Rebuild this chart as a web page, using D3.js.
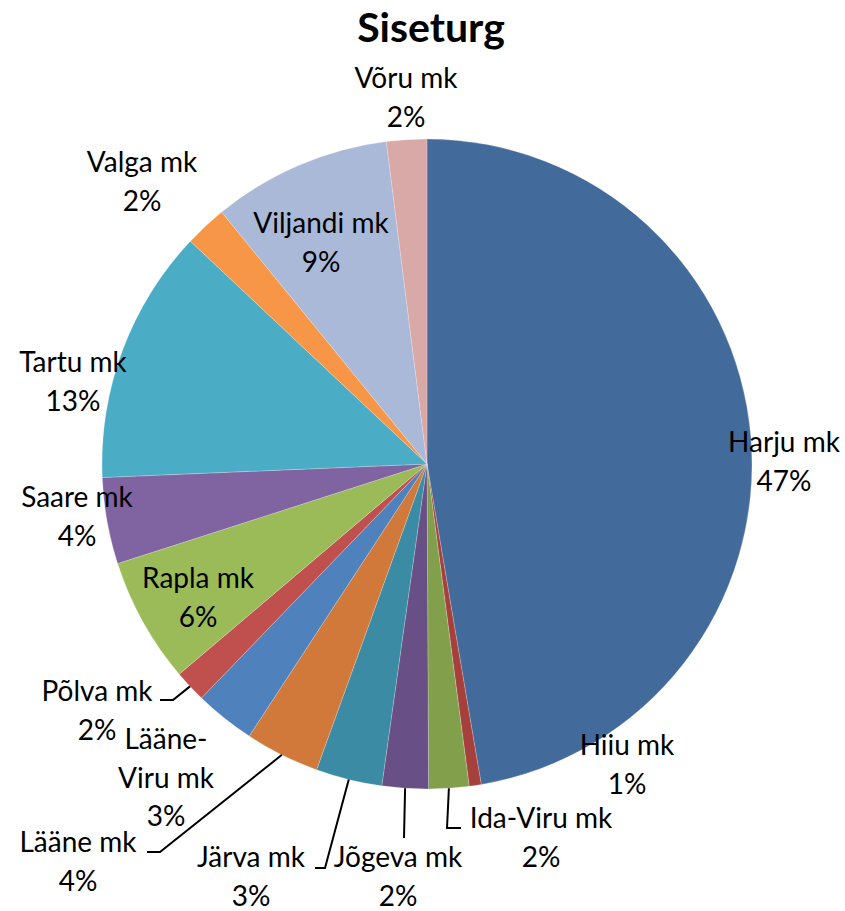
<!DOCTYPE html>
<html>
<head>
<meta charset="utf-8">
<script src="https://cdn.jsdelivr.net/npm/d3@7"></script>
<style>
  html, body { margin: 0; padding: 0; background: #fff; }
  svg { display: block; }
  text { font-family: Lato, "Open Sans", sans-serif; fill: #000; }
</style>
</head>
<body>
<svg id="chart" width="845" height="911"></svg>
<script>
// ---- data ----
const title = "Siseturg";
const categories = ["Harju mk", "Hiiu mk", "Ida-Viru mk", "Jõgeva mk", "Järva mk", "Lääne mk",
  "Lääne-Viru mk", "Põlva mk", "Rapla mk", "Saare mk", "Tartu mk", "Valga mk", "Viljandi mk", "Võru mk"];
const values = [47.4, 0.6, 2.0, 2.3, 3.3, 3.7, 3.0, 1.6, 6.25, 4.3, 12.7, 2.1, 8.9, 2.0];
const colors = ["#426A9B", "#A6403D", "#82A04C", "#684F86", "#3A8BA3", "#D0793A", "#4F81BD",
  "#C0504D", "#9BBB59", "#8064A2", "#4BACC6", "#F79646", "#AAB9D7", "#D9A9A8"];

// ---- layout (label anchor = centre x, first baseline y; leader elbow/end points) ----
const labelLayout = {
  "Harju mk":      { x: 784, y: 452, lines: ["Harju mk"] },
  "Hiiu mk":       { x: 627, y: 755, lines: ["Hiiu mk"] },
  "Ida-Viru mk":   { x: 541, y: 828, lines: ["Ida-Viru mk"], leader: [[447, 828], [461, 828]] },
  "Jõgeva mk":     { x: 398, y: 867, lines: ["Jõgeva mk"], leader: [[404, 838]] },
  "Järva mk":      { x: 251, y: 867, lines: ["Järva mk"], leader: [[325, 868], [315, 868]] },
  "Lääne mk":      { x: 78,  y: 852, lines: ["Lääne mk"], leader: [[160, 852], [147, 852]] },
  "Lääne-Viru mk": { x: 166, y: 749, lines: ["Lääne-", "Viru mk"] },
  "Põlva mk":      { x: 97,  y: 701, lines: ["Põlva mk"], leader: [[173, 700], [160, 700]] },
  "Rapla mk":      { x: 198, y: 588, lines: ["Rapla mk"] },
  "Saare mk":      { x: 77,  y: 507, lines: ["Saare mk"] },
  "Tartu mk":      { x: 73,  y: 372, lines: ["Tartu mk"] },
  "Valga mk":      { x: 142, y: 172, lines: ["Valga mk"] },
  "Viljandi mk":   { x: 321, y: 233, lines: ["Viljandi mk"] },
  "Võru mk":       { x: 406, y: 88,  lines: ["Võru mk"] }
};

const cx = 427, cy = 464, R = 325;
const lineH = 38.5;

const svg = d3.select("#chart");

svg.append("text")
  .attr("x", 431).attr("y", 42)
  .attr("text-anchor", "middle")
  .style("font-size", "41px").style("font-weight", "bold")
  .text(title);

const data = categories.map((c, i) => ({ name: c, value: values[i], color: colors[i] }));
const total = d3.sum(values);

const pie = d3.pie().value(d => d.value).sort(null).startAngle(0).endAngle(2 * Math.PI);
const arc = d3.arc().innerRadius(0).outerRadius(R);
const arcs = pie(data);

const g = svg.append("g").attr("transform", `translate(${cx},${cy})`);
g.selectAll("path").data(arcs).join("path")
  .attr("d", arc)
  .attr("fill", d => d.data.color)
  .attr("stroke", "rgba(255,255,255,0.35)")
  .attr("stroke-width", 0.6);

// leader lines
arcs.forEach(a => {
  const L = labelLayout[a.data.name];
  if (!L.leader) return;
  const mid = (a.startAngle + a.endAngle) / 2;
  const start = [cx + R * Math.sin(mid), cy - R * Math.cos(mid)];
  const pts = [start].concat(L.leader);
  svg.append("path")
    .attr("d", d3.line()(pts))
    .attr("fill", "none")
    .attr("stroke", "#000")
    .attr("stroke-width", 2);
});

// labels
arcs.forEach(a => {
  const L = labelLayout[a.data.name];
  const pct = Math.round(a.data.value / total * 100) + "%";
  const lines = L.lines.concat([pct]);
  const t = svg.append("text")
    .attr("text-anchor", "middle")
    .style("font-size", "28px");
  lines.forEach((s, i) => {
    t.append("tspan").attr("x", L.x).attr("y", L.y + i * lineH).text(s);
  });
});
</script>
</body>
</html>
